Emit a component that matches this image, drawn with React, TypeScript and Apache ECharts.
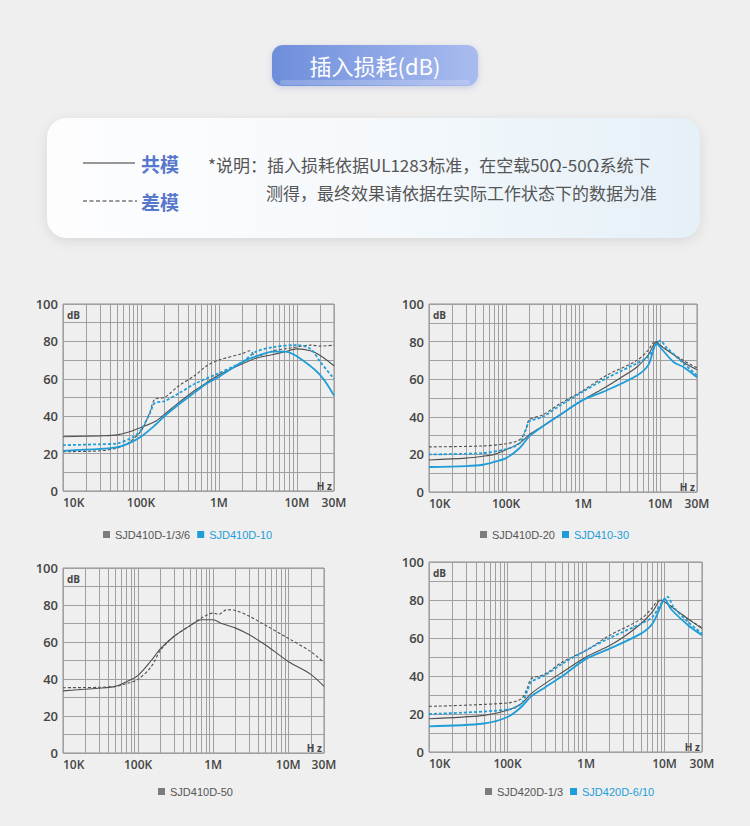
import React, { useEffect, useRef } from 'react';
import * as echarts from 'echarts';

// ---------- data (frequency in Hz, insertion loss in dB) ----------
const C1_GRAY_SOLID = [[1e4,29],[3e4,29.5],[5e4,30],[7e4,31.5],[1e5,34],[1.5e5,37],[2e5,41],[3e5,47],[5e5,54],[7e5,58],[1e6,62],[2e6,68],[3e6,71],[5e6,73],[7e6,74.5],[1e7,76],[1.5e7,75],[2e7,72.5],[3e7,67]];
const C1_GRAY_DASH = [[1e4,21],[3e4,21.5],[5e4,23],[7e4,26],[1e5,32],[1.3e5,42],[1.5e5,49],[2e5,50],[3e5,56],[5e5,62],[7e5,67],[1e6,70],[2e6,73.5],[2.5e6,75],[3e6,72],[5e6,75],[7e6,76],[1e7,77],[1.5e7,78],[2e7,77.5],[3e7,78]];
const C1_BLUE_SOLID = [[1e4,21.5],[3e4,22.5],[5e4,23.5],[7e4,25.5],[1e5,29],[1.5e5,35],[2e5,40],[3e5,46],[5e5,53],[7e5,57.5],[1e6,61],[2e6,69],[3e6,72],[5e6,74.5],[7e6,74.5],[1e7,72],[2e7,62],[3e7,51]];
const C1_BLUE_DASH = [[1e4,24.5],[3e4,25],[5e4,25.5],[8e4,29],[1e5,32.5],[1.3e5,41.5],[1.5e5,47],[2e5,48],[3e5,52],[5e5,57.5],[1e6,63],[2e6,69],[3e6,74.5],[5e6,77],[1e7,78],[1.5e7,76],[2e7,69],[3e7,60]];

const C2_GRAY_SOLID = [[1e4,17],[3e4,18],[5e4,19],[7e4,20],[1e5,22.5],[1.5e5,26],[2e5,30.5],[3e5,35],[5e5,41],[1e6,49],[2e6,56],[3e6,60.5],[5e6,66.5],[7e6,73],[9e6,80],[1e7,78],[1.5e7,73],[2e7,69],[3e7,65]];
const C2_GRAY_DASH = [[1e4,24],[5e4,24.5],[1e5,25.7],[1.5e5,27.8],[1.8e5,33],[2e5,38.4],[3e5,41],[5e5,47],[1e6,54],[2e6,62],[5e6,70],[7e6,75.5],[8.5e6,80],[1e7,78],[2e7,70],[3e7,66]];
const C2_BLUE_SOLID = [[1e4,13.3],[3e4,13.8],[5e4,14.5],[7e4,16],[1e5,18],[1.5e5,23.4],[2e5,29.6],[3e5,35],[5e5,41],[1e6,49],[2e6,54],[5e6,62],[7e6,67.5],[9e6,79],[1e7,77],[1.5e7,69],[2e7,66.5],[3e7,61]];
const C2_BLUE_DASH = [[1e4,20],[5e4,20.7],[1e5,22.8],[1.5e5,26],[1.8e5,33],[2e5,37.5],[3e5,40],[5e5,46],[1e6,53.5],[2e6,60.5],[5e6,68.5],[7e6,72],[9e6,79],[1e7,80.5],[1.2e7,77],[2e7,68.5],[3e7,62]];

const C3_GRAY_SOLID = [[1e4,33.6],[3e4,35],[5e4,36],[7e4,38.5],[1e5,42],[1.5e5,50],[2e5,56.5],[3e5,63],[5e5,69],[7e5,72],[1e6,72],[1.3e6,70],[2e6,67.5],[3e6,64],[5e6,58.4],[1e7,49.5],[2e7,42.5],[3e7,36]];
const C3_GRAY_DASH = [[1e4,35.3],[3e4,35.5],[5e4,36],[7e4,37.5],[1e5,39.8],[1.5e5,46.7],[2e5,55.7],[3e5,63],[5e5,69],[7e5,73],[1e6,75.6],[1.2e6,75],[1.5e6,77.4],[2e6,77],[3e6,74],[5e6,69],[1e7,62],[2e7,54.8],[3e7,48.8]];

const C4_GRAY_SOLID = [[1e4,17.5],[5e4,19.3],[1e5,22],[1.5e5,25.4],[2e5,30.7],[3e5,36],[5e5,42],[1e6,50],[2e6,56],[3e6,60.5],[5e6,67.5],[7e6,73.7],[9e6,80],[1e7,79],[1.5e7,73.7],[2e7,70],[3e7,65]];
const C4_GRAY_DASH = [[1e4,24],[1e5,25.8],[1.5e5,28],[1.8e5,34],[2e5,38.6],[3e5,41],[5e5,47.4],[1e6,53.5],[2e6,61.4],[5e6,70],[7e6,76],[8.5e6,80],[1e7,79],[2e7,70],[3e7,65.4]];
const C4_BLUE_SOLID = [[1e4,13.5],[5e4,15],[1e5,18.4],[1.5e5,23.7],[2e5,29.3],[3e5,34],[5e5,40],[1e6,49],[2e6,54.4],[5e6,62.3],[7e6,67.5],[9e6,77],[1e7,80.7],[1.2e7,75.4],[2e7,66.7],[3e7,61.4]];
const C4_BLUE_DASH = [[1e4,20],[1e5,22.3],[1.5e5,25.4],[1.8e5,32.5],[2e5,36.8],[3e5,40.4],[5e5,46.5],[1e6,53.5],[2e6,60],[5e6,67.5],[7e6,71],[9e6,78],[1.1e7,81.6],[1.3e7,76.3],[2e7,68.4],[3e7,62.3]];

const LEGENDS = [
  ['SJD410D-1/3/6', 'SJD410D-10'],
  ['SJD410D-20', 'SJD410-30'],
  ['SJD410D-50'],
  ['SJD420D-1/3', 'SJD420D-6/10'],
];

const MINOR_MULTS = [2, 3, 4, 5, 6, 7, 8, 9];
const DECADES = [1e4, 1e5, 1e6, 1e7];

// ---------- styles ----------
const BLUE = '#1e9dd8';
const GRAY = '#505050';
const LEGEND_GRAY = '#7c7c7c';
const GRID_LINE = '#a0a0a0';
const GRID_BORDER = '#8e8e8e';
const CJK = '"Noto Sans CJK SC", "Noto Sans", sans-serif';
const NUM = '"Open Sans", "Noto Sans", sans-serif';

const GRIDS = [
  { left: 63, top: 304, width: 271, height: 187 },
  { left: 429, top: 304, width: 268, height: 188 },
  { left: 63, top: 568, width: 261, height: 185 },
  { left: 429, top: 562, width: 273, height: 190 },
];
const LEGEND_POS = [
  { left: 103, top: 529 },
  { left: 480, top: 529 },
  { left: 158, top: 786 },
  { left: 485, top: 786 },
];

const fmtFreq = (v: number) => {
  if (v >= 1e6) return Math.round(v / 1e6) + 'M';
  return Math.round(v / 1e3) + 'K';
};

function curve(name: string, data: number[][], g: number, color: string, dashed: boolean, width: number) {
  return {
    type: 'line', name, data, xAxisIndex: g, yAxisIndex: g,
    symbol: 'none', smooth: 0.3, color, silent: true, z: 3,
    lineStyle: { color, width, type: dashed ? [3, 2] : 'solid' },
  };
}

export default function App() {
  const ref = useRef<HTMLDivElement>(null);
  useEffect(() => {
    const chart = echarts.init(ref.current!, null, { renderer: 'svg' });
    const minorFreqs = DECADES.flatMap((d) => MINOR_MULTS.map((m) => m * d)).filter((f) => f < 3e7);

    const xAxis = GRIDS.map((_, i) => ({
      type: 'log', logBase: 10, min: 1e4, max: 3e7, gridIndex: i,
      axisLine: { show: false }, axisTick: { show: false },
      splitLine: { show: true, lineStyle: { color: GRID_LINE, width: 1 } },
      axisLabel: {
        formatter: fmtFreq, fontSize: 12, fontWeight: 600, color: '#444', fontFamily: NUM, margin: 5,
        alignMinLabel: 'left',
      },
    }));
    const yAxis = GRIDS.map((_, i) => ({
      type: 'value', min: 0, max: 100, interval: 20, gridIndex: i,
      axisLine: { show: false }, axisTick: { show: false },
      splitLine: { show: true, lineStyle: { color: GRID_LINE, width: 1 } },
      minorTick: { show: false, splitNumber: 2 },
      minorSplitLine: { show: true, lineStyle: { color: GRID_LINE, width: 1 } },
      axisLabel: { fontSize: 13, fontWeight: 600, color: '#444', fontFamily: NUM, margin: 5 },
    }));

    const gridLineSeries = GRIDS.map((_, i) => ({
      type: 'line', data: [], xAxisIndex: i, yAxisIndex: i, silent: true, z: 1,
      markLine: {
        silent: true, z: 1, symbol: ['none', 'none'], label: { show: false },
        lineStyle: { color: GRID_LINE, width: 1, type: 'solid' },
        emphasis: { disabled: true },
        data: minorFreqs.map((f) => ({ xAxis: f })),
      },
    }));

    const series: any[] = [
      ...gridLineSeries,
      curve(LEGENDS[0][0], C1_GRAY_SOLID, 0, GRAY, false, 1.1),
      curve(LEGENDS[0][0], C1_GRAY_DASH, 0, GRAY, true, 1.1),
      curve(LEGENDS[0][1], C1_BLUE_SOLID, 0, BLUE, false, 1.8),
      curve(LEGENDS[0][1], C1_BLUE_DASH, 0, BLUE, true, 1.8),
      curve(LEGENDS[1][0], C2_GRAY_SOLID, 1, GRAY, false, 1.1),
      curve(LEGENDS[1][0], C2_GRAY_DASH, 1, GRAY, true, 1.1),
      curve(LEGENDS[1][1], C2_BLUE_SOLID, 1, BLUE, false, 1.8),
      curve(LEGENDS[1][1], C2_BLUE_DASH, 1, BLUE, true, 1.8),
      curve(LEGENDS[2][0], C3_GRAY_SOLID, 2, GRAY, false, 1.1),
      curve(LEGENDS[2][0], C3_GRAY_DASH, 2, GRAY, true, 1.1),
      curve(LEGENDS[3][0], C4_GRAY_SOLID, 3, GRAY, false, 1.1),
      curve(LEGENDS[3][0], C4_GRAY_DASH, 3, GRAY, true, 1.1),
      curve(LEGENDS[3][1], C4_BLUE_SOLID, 3, BLUE, false, 1.8),
      curve(LEGENDS[3][1], C4_BLUE_DASH, 3, BLUE, true, 1.8),
    ];

    const legend = LEGENDS.map((names, i) => ({
      ...LEGEND_POS[i], orient: 'horizontal', icon: 'rect',
      itemWidth: 7, itemHeight: 7, itemGap: 7, selectedMode: false, padding: 0,
      textStyle: { fontSize: 11, fontFamily: '"Liberation Sans", Arial, sans-serif' },
      data: names.map((n, k) => ({
        name: n,
        itemStyle: { color: k === 0 ? LEGEND_GRAY : BLUE },
        textStyle: { color: k === 0 ? '#555' : BLUE },
      })),
    }));

    const axisNames: any[] = [];
    GRIDS.forEach((g) => {
      axisNames.push({
        type: 'text', z: 10, x: g.left + 4, y: g.top + 11,
        style: { text: 'dB', fontSize: 10, fontWeight: 'bold', fill: '#444', fontFamily: NUM, verticalAlign: 'middle' },
      });
      axisNames.push({
        type: 'text', z: 10, x: g.left + g.width - 2, y: g.top + g.height - 5,
        style: { text: 'H z', fontSize: 10, fontWeight: 'bold', fill: '#444', fontFamily: NUM, align: 'right', verticalAlign: 'middle' },
      });
    });

    const graphic: any[] = [
      {
        type: 'rect', z: 1, shape: { x: 272, y: 45, width: 206, height: 41, r: 11 },
        style: {
          fill: new echarts.graphic.LinearGradient(0, 0, 1, 0, [
            { offset: 0, color: '#6e8edb' }, { offset: 1, color: '#a9bcef' },
          ]),
          shadowBlur: 6, shadowColor: 'rgba(90,110,180,0.25)', shadowOffsetY: 2,
        },
      },
      {
        type: 'rect', z: 2, shape: { x: 280, y: 80, width: 190, height: 5, r: 3 },
        style: { fill: 'rgba(255,255,255,0.18)' },
      },
      {
        type: 'text', z: 3, x: 375, y: 65,
        style: { text: '插入损耗(dB)', fill: '#ffffff', fontSize: 22, fontFamily: CJK, align: 'center', verticalAlign: 'middle' },
      },
      {
        type: 'rect', z: 1, shape: { x: 47, y: 118, width: 653, height: 120, r: 20 },
        style: {
          fill: new echarts.graphic.LinearGradient(0, 0, 1, 0, [
            { offset: 0, color: '#fdfdfe' }, { offset: 0.5, color: '#f5f9fc' }, { offset: 1, color: '#e5f0f7' },
          ]),
          shadowBlur: 12, shadowColor: 'rgba(0,0,0,0.10)', shadowOffsetY: 3,
        },
      },
      { type: 'line', z: 2, shape: { x1: 83, y1: 163, x2: 135, y2: 163 }, style: { stroke: '#333', lineWidth: 1 } },
      { type: 'line', z: 2, shape: { x1: 83, y1: 201, x2: 137, y2: 201 }, style: { stroke: '#333', lineWidth: 1, lineDash: [4, 2.5] } },
      {
        type: 'text', z: 2, x: 141, y: 163,
        style: { text: '共模', fill: '#5878cc', fontSize: 19, fontWeight: 'bold', fontFamily: CJK, verticalAlign: 'middle' },
      },
      {
        type: 'text', z: 2, x: 141, y: 201,
        style: { text: '差模', fill: '#5878cc', fontSize: 19, fontWeight: 'bold', fontFamily: CJK, verticalAlign: 'middle' },
      },
      {
        type: 'text', z: 2, x: 208, y: 164,
        style: { text: '*说明：插入损耗依据UL1283标准，在空载50Ω-50Ω系统下', fill: '#555', fontSize: 17, fontFamily: CJK, verticalAlign: 'middle' },
      },
      {
        type: 'text', z: 2, x: 266, y: 192,
        style: { text: '测得，最终效果请依据在实际工作状态下的数据为准', fill: '#555', fontSize: 17, fontFamily: CJK, verticalAlign: 'middle' },
      },
      ...axisNames,
    ];

    chart.setOption({
      animation: false,
      backgroundColor: '#efefef',
      grid: GRIDS.map((g) => ({ ...g, show: true, borderColor: GRID_BORDER, borderWidth: 1, backgroundColor: 'transparent', containLabel: false })),
      xAxis, yAxis, series, legend, graphic,
    });
    return () => chart.dispose();
  }, []);
  return <div ref={ref} style={{ position: 'absolute', left: 0, top: 0, width: 750, height: 826 }} />;
}
